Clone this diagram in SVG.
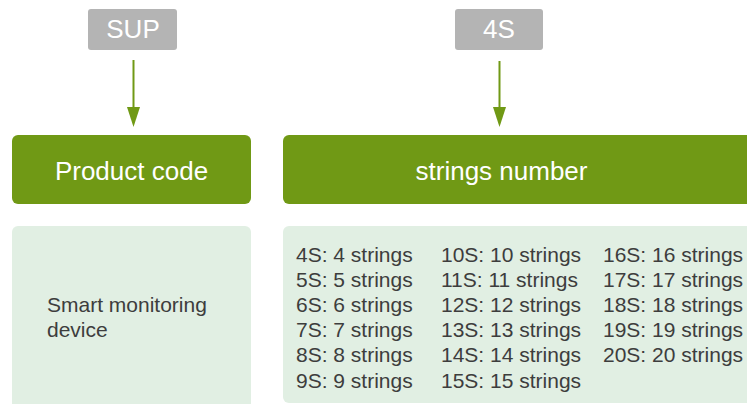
<svg xmlns="http://www.w3.org/2000/svg" width="747" height="404" viewBox="0 0 747 404">
<style>
.tag{fill:#b4b4b4}
.head{fill:#709915}
.body{fill:#e1efe3}
.wt{fill:#ffffff;font-family:"Liberation Sans",Arial,sans-serif;font-size:26px;text-anchor:middle}
.dt{fill:#3d3d3d;font-family:"Liberation Sans",Arial,sans-serif;font-size:21px}
.conn{stroke:#709915;stroke-width:2;fill:none}
</style>
<defs>
<marker id="arr" markerUnits="userSpaceOnUse" markerWidth="14" markerHeight="20" refX="7" refY="19" orient="auto-start-reverse" viewBox="0 0 14 20">
<path d="M0.5,0 L13.5,0 L7,19 Z" fill="#709915" transform="rotate(-90 7 10) translate(0 0)"/>
</marker>
</defs>
<g id="node-sup">
<rect class="tag" x="88" y="9" width="89" height="41" rx="3"/>
<text class="wt" x="133" y="38">SUP</text>
</g>
<g id="node-4s">
<rect class="tag" x="455" y="9" width="88" height="41" rx="3"/>
<text class="wt" x="499" y="38">4S</text>
</g>
<g id="connectors">
<line class="conn" x1="133.5" y1="60" x2="133.5" y2="110"/>
<path d="M127,107 L140,107 L133.5,127 Z" fill="#709915"/>
<line class="conn" x1="499.5" y1="61" x2="499.5" y2="110"/>
<path d="M493,107 L506,107 L499.5,127 Z" fill="#709915"/>
</g>
<g id="node-product-code">
<rect class="head" x="12" y="135" width="239" height="69" rx="6"/>
<text class="wt" x="131.5" y="180">Product code</text>
</g>
<g id="node-strings-number">
<rect class="head" x="283" y="135" width="480" height="69" rx="6"/>
<text class="wt" x="501.5" y="180">strings number</text>
</g>
<g id="node-product-desc">
<rect class="body" x="12" y="226" width="239" height="190" rx="6"/>
<text class="dt" x="47" y="312">Smart monitoring</text>
<text class="dt" x="47" y="337">device</text>
</g>
<g id="node-strings-desc">
<rect class="body" x="283" y="226" width="480" height="177" rx="6"/>
<text class="dt" x="296" y="262">4S: 4 strings</text>
<text class="dt" x="296" y="287">5S: 5 strings</text>
<text class="dt" x="296" y="312">6S: 6 strings</text>
<text class="dt" x="296" y="337">7S: 7 strings</text>
<text class="dt" x="296" y="362">8S: 8 strings</text>
<text class="dt" x="296" y="388">9S: 9 strings</text>
<text class="dt" x="441" y="262">10S: 10 strings</text>
<text class="dt" x="441" y="287">11S: 11 strings</text>
<text class="dt" x="441" y="312">12S: 12 strings</text>
<text class="dt" x="441" y="337">13S: 13 strings</text>
<text class="dt" x="441" y="362">14S: 14 strings</text>
<text class="dt" x="441" y="388">15S: 15 strings</text>
<text class="dt" x="603" y="262">16S: 16 strings</text>
<text class="dt" x="603" y="287">17S: 17 strings</text>
<text class="dt" x="603" y="312">18S: 18 strings</text>
<text class="dt" x="603" y="337">19S: 19 strings</text>
<text class="dt" x="603" y="362">20S: 20 strings</text>
</g>
</svg>
